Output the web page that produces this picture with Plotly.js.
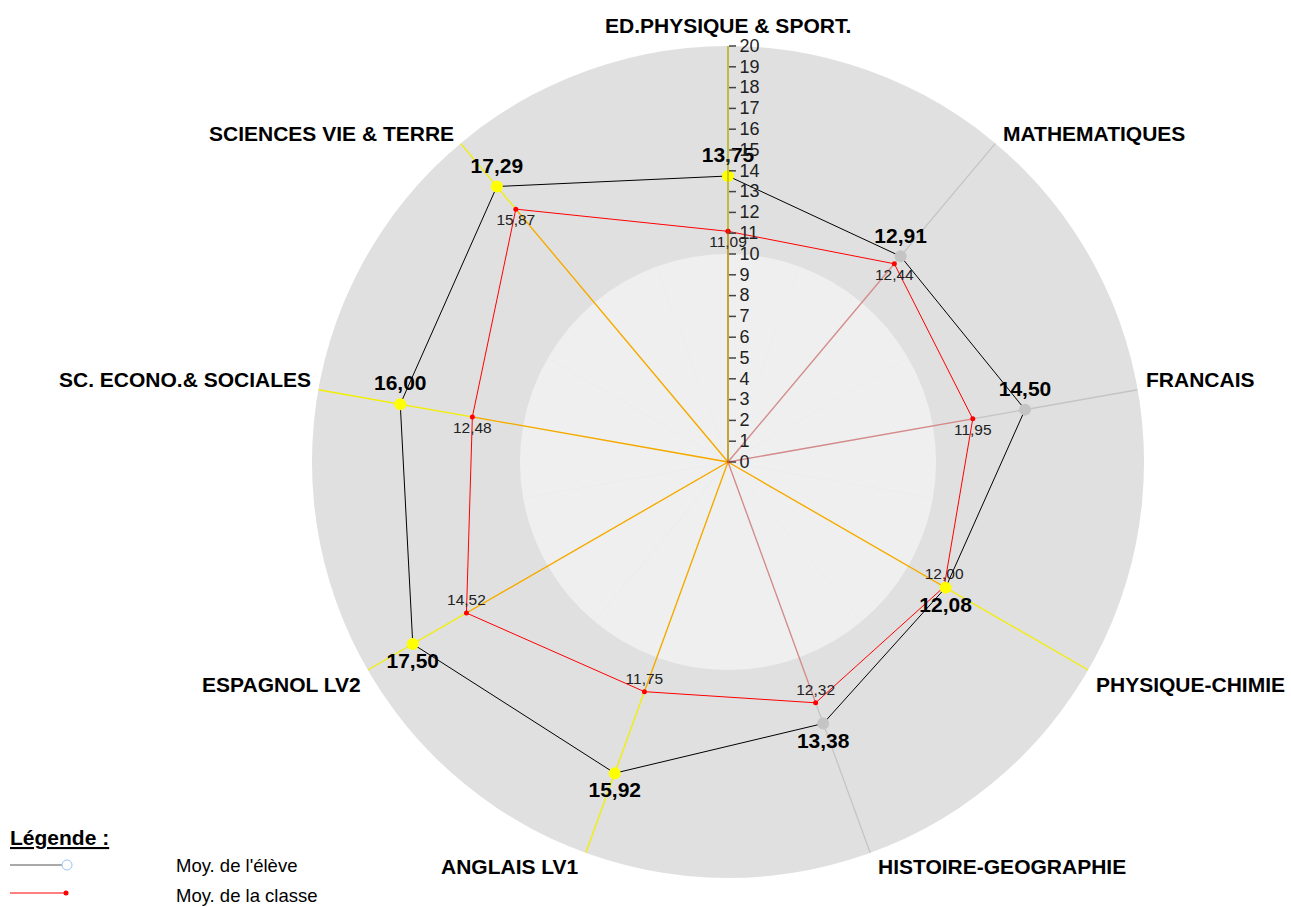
<!DOCTYPE html>
<html>
<head>
<meta charset="utf-8">
<script src="https://cdn.plot.ly/plotly-3.0.1.min.js"></script>
<style>html,body{margin:0;padding:0;background:#fff;}#chart{width:1291px;height:907px;}</style>
</head>
<body>
<div id="chart"></div>
<script>
const categories = ["ED.PHYSIQUE & SPORT.", "MATHEMATIQUES", "FRANCAIS", "PHYSIQUE-CHIMIE", "HISTOIRE-GEOGRAPHIE", "ANGLAIS LV1", "ESPAGNOL LV2", "SC. ECONO.& SOCIALES", "SCIENCES VIE & TERRE"];
const eleve = [13.75, 12.91, 14.50, 12.08, 13.38, 15.92, 17.50, 16.00, 17.29];
const classe = [11.09, 12.44, 11.95, 12.00, 12.32, 11.75, 14.52, 12.48, 15.87];
const highlight = [true, false, false, true, false, true, true, true, true];
const radialTicks = Array.from({length: 21}, (_, i) => i);
const legendTitle = "Légende :";
const legendNames = ["Moy. de l'élève", "Moy. de la classe"];

const W = 1291, H = 907;
const CX = 728, CY = 462, R = 416;
const FONT = "Liberation Sans, Arial, sans-serif";
const fmt = v => v.toFixed(2).replace('.', ',');
const n = categories.length;
const angleOf = i => 90 - 360 / n * i;
const upper = i => Math.sin(angleOf(i) * Math.PI / 180) > 0.01 || i === 0;

const traces = [];
// inner light disc
traces.push({type: 'barpolar', r: categories.map(() => 10), theta: categories,
  marker: {color: '#efefef', line: {width: 0}}, hoverinfo: 'skip', showlegend: false});
// spokes
categories.forEach((c, i) => {
  traces.push({type: 'scatterpolar', mode: 'lines', r: [0, 20], theta: [c, c],
    line: {color: highlight[i] ? '#f2ee00' : '#c4c4c4', width: 1.3}, hoverinfo: 'skip', showlegend: false});
});
categories.forEach((c, i) => {
  traces.push({type: 'scatterpolar', mode: 'lines', r: [0, classe[i]], theta: [c, c],
    line: {color: 'rgba(255,0,0,0.3)', width: 1.3}, hoverinfo: 'skip', showlegend: false});
});
// class polygon
traces.push({type: 'scatterpolar', mode: 'lines+markers+text',
  r: classe.concat([classe[0]]), theta: categories.concat([categories[0]]),
  line: {color: '#ff0000', width: 1}, marker: {color: '#ff0000', size: 5},
  text: classe.map(fmt).concat(['']),
  textposition: categories.map((c, i) => upper(i) ? 'bottom center' : 'top center').concat(['top center']),
  textfont: {family: FONT, size: 15.5, color: '#222'}, cliponaxis: false, hoverinfo: 'skip', showlegend: false});
// student polygon
traces.push({type: 'scatterpolar', mode: 'lines+markers+text',
  r: eleve.concat([eleve[0]]), theta: categories.concat([categories[0]]),
  line: {color: '#000000', width: 1},
  marker: {color: highlight.map(h => h ? '#ffff00' : '#c4c4c4').concat(['rgba(0,0,0,0)']), size: 12},
  text: eleve.map(fmt).concat(['']),
  textposition: categories.map((c, i) => upper(i) ? 'top center' : 'bottom center').concat(['top center']),
  textfont: {family: FONT, size: 21, color: '#000', weight: 'bold'}, cliponaxis: false, hoverinfo: 'skip', showlegend: false});

// category labels
const annotations = categories.map((c, i) => {
  const a = angleOf(i) * Math.PI / 180;
  const px = CX + R * Math.cos(a), py = CY - R * Math.sin(a);
  const cs = Math.cos(a);
  const xanchor = Math.abs(cs) < 0.1 ? 'center' : (cs > 0 ? 'left' : 'right');
  const up = Math.sin(a) > 0;
  return {xref: 'paper', yref: 'paper', x: px / W, y: 1 - py / H, text: '<b>' + c + '</b>',
    showarrow: false, xanchor: xanchor, yanchor: 'middle',
    xshift: xanchor === 'center' ? 0 : (cs > 0 ? 6 : -5), yshift: i === 0 ? 21 : (up ? 10 : -14),
    font: {family: FONT, size: 21, color: '#000'}};
});
annotations.push({xref: 'paper', yref: 'paper', x: 8 / W, y: 1 - 837 / H, xanchor: 'left', yanchor: 'middle',
  text: '<b><u>' + legendTitle + '</u></b>', showarrow: false, font: {family: FONT, size: 21, color: '#000'}});
annotations.push({xref: 'paper', yref: 'paper', x: 174 / W, y: 1 - 865 / H, xanchor: 'left', yanchor: 'middle',
  text: legendNames[0], showarrow: false, font: {family: FONT, size: 18.5, color: '#000'}});
annotations.push({xref: 'paper', yref: 'paper', x: 174 / W, y: 1 - 895 / H, xanchor: 'left', yanchor: 'middle',
  text: legendNames[1], showarrow: false, font: {family: FONT, size: 18.5, color: '#000'}});

const shapes = [
  {type: 'line', xref: 'paper', yref: 'paper', x0: 10 / W, x1: 62 / W, y0: 1 - 865 / H, y1: 1 - 865 / H, line: {color: '#555', width: 1}},
  {type: 'circle', xref: 'paper', yref: 'paper', x0: 62 / W, x1: 72 / W, y0: 1 - 860 / H, y1: 1 - 870 / H, line: {color: '#9cc2ee', width: 1}, fillcolor: '#fff'},
  {type: 'line', xref: 'paper', yref: 'paper', x0: 10 / W, x1: 66 / W, y0: 1 - 893 / H, y1: 1 - 893 / H, line: {color: '#ff0000', width: 1}},
  {type: 'circle', xref: 'paper', yref: 'paper', x0: 63.5 / W, x1: 68.5 / W, y0: 1 - 890.5 / H, y1: 1 - 895.5 / H, line: {color: '#ff0000', width: 0}, fillcolor: '#ff0000'}
];

const layout = {
  width: W, height: H, margin: {l: 0, r: 0, t: 0, b: 0},
  paper_bgcolor: '#fff', showlegend: false,
  font: {family: FONT},
  polar: {
    domain: {x: [(CX - R) / W, (CX + R) / W], y: [(H - CY - R) / H, (H - CY + R) / H]},
    bgcolor: '#e0e0e0',
    bargap: 0,
    radialaxis: {range: [0, 20], angle: 90, side: 'clockwise', tickvals: radialTicks, ticktext: radialTicks.map(String),
      ticks: 'outside', ticklen: 7, tickcolor: '#444', tickwidth: 1.5, tickangle: 90,
      showline: true, linecolor: 'rgba(110,110,40,0.35)', linewidth: 2, showgrid: false,
      tickfont: {family: FONT, size: 18, color: '#222'}},
    angularaxis: {rotation: 90, direction: 'clockwise', showgrid: false, showline: false,
      showticklabels: false, ticks: ''}
  },
  annotations: annotations, shapes: shapes
};
Plotly.newPlot('chart', traces, layout, {displayModeBar: false, staticPlot: true});
</script>
</body>
</html>
